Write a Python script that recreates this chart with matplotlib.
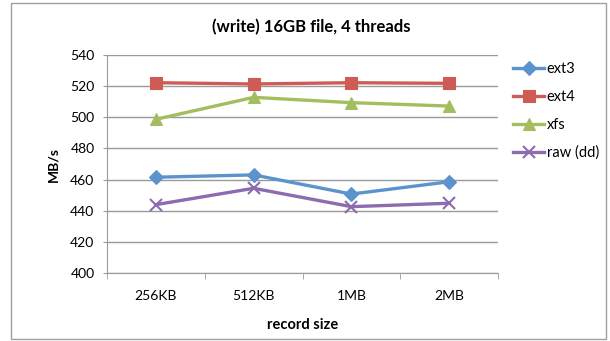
import matplotlib.pyplot as plt
from matplotlib.patches import Rectangle

plt.rcParams['font.family'] = ['Lato', 'DejaVu Sans']

# write throughput (MB/s) per record size
record_sizes = ["256KB", "512KB", "1MB", "2MB"]
ext3 = [461.5, 463, 450.7, 458.6]
ext4 = [522.2, 521.4, 522.2, 521.8]
xfs = [498.7, 512.8, 509.4, 507.2]
raw_dd = [443.9, 454.4, 442.6, 444.8]

series = [("ext3", ext3, "#5B93CC", "D", 7),
          ("ext4", ext4, "#CF5B55", "s", 8.5),
          ("xfs", xfs, "#A2BE5E", "^", 8.5),
          ("raw (dd)", raw_dd, "#8D6BAF", "x", 8)]

fig = plt.figure(figsize=(6.10, 3.41), dpi=100)
fig.patches.append(Rectangle((11 / 610, 2 / 341), 595 / 610, 336 / 341,
                             transform=fig.transFigure, fill=False,
                             edgecolor="#A0A0A0", linewidth=1.0))

ax = fig.add_axes([107 / 610, 68 / 341, 391 / 610, 218 / 341])
x = list(range(len(record_sizes)))
for name, vals, col, mk, ms in series:
    ax.plot(x, vals, color=col, linewidth=2.4, marker=mk, markersize=ms,
            markeredgewidth=1.5 if mk == "x" else 0.8, markeredgecolor=col,
            label=name)

ax.set_xlim(-0.5, 3.5)
ax.set_ylim(400, 540)
ax.set_yticks(range(400, 541, 20))
ax.yaxis.grid(True, color="#9A9A9A", linewidth=1.0)
ax.set_axisbelow(True)

ax.set_xticks(x)
ax.set_xticklabels(record_sizes)
ax.set_xticks([-0.5, 0.5, 1.5, 2.5, 3.5], minor=True)
ax.tick_params(axis="x", which="major", length=0, pad=12, labelsize=10)
ax.tick_params(axis="x", which="minor", length=4, color="#9A9A9A")
ax.tick_params(axis="y", length=3, color="#9A9A9A", labelsize=10, pad=6)

for s in ["top", "right"]:
    ax.spines[s].set_visible(False)
for s in ["left", "bottom"]:
    ax.spines[s].set_color("#9A9A9A")

ax.set_ylabel("MB/s", fontsize=10, fontweight="bold", labelpad=8)
ax.set_xlabel("record size", fontsize=10.5, fontweight="bold", labelpad=12)
fig.text(311 / 610, 1 - 27 / 341, "(write) 16GB file, 4 threads",
         fontsize=12, fontweight="bold", ha="center", va="center")

ax.legend(loc="upper left", bbox_to_anchor=(1.024, 0.995), frameon=False,
          fontsize=10.5, handlelength=2.1, handletextpad=0.2, labelspacing=0.95,
          borderaxespad=0)

fig.savefig("out.png", dpi=100)
